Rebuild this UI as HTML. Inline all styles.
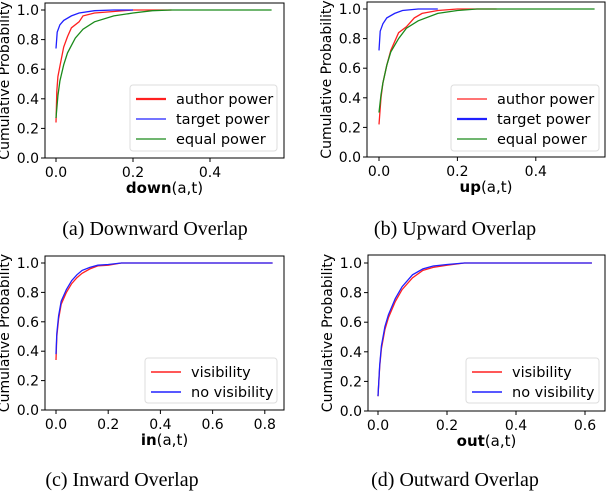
<!DOCTYPE html>
<html><head><meta charset="utf-8">
<style>
body{margin:0;background:#fff;width:606px;height:494px;overflow:hidden}
svg text{font-family:"DejaVu Sans","Liberation Sans",sans-serif}
.cap{font-family:"Liberation Serif",serif;font-size:20px}
</style></head>
<body>
<svg id="root" width="606" height="494" xmlns="http://www.w3.org/2000/svg">
<text class="cap" x="155" y="235" text-anchor="middle">(a) Downward Overlap</text>
<text class="cap" x="455" y="235" text-anchor="middle">(b) Upward Overlap</text>
<text class="cap" x="122" y="486" text-anchor="middle">(c) Inward Overlap</text>
<text class="cap" x="455" y="486" text-anchor="middle">(d) Outward Overlap</text>
</svg>
<script>
// Panel (a) downward overlap
const aAuthorX=[0,0.002,0.005,0.01,0.02,0.03,0.04,0.06,0.07,0.1,0.15,0.2,0.3];
const aAuthorY=[0.24,0.45,0.55,0.62,0.75,0.82,0.88,0.92,0.96,0.98,0.99,1,1];
const aTargetX=[0,0.003,0.01,0.02,0.04,0.06,0.1,0.15,0.2];
const aTargetY=[0.74,0.85,0.9,0.93,0.96,0.98,0.995,1,1];
const aEqualX=[0,0.005,0.01,0.02,0.03,0.05,0.07,0.1,0.15,0.2,0.25,0.3,0.56];
const aEqualY=[0.27,0.42,0.52,0.63,0.71,0.81,0.87,0.92,0.96,0.98,0.995,1,1];
// Panel (b) upward overlap
const bAuthorX=[0,0.005,0.01,0.02,0.03,0.05,0.07,0.09,0.11,0.15,0.2,0.3];
const bAuthorY=[0.22,0.4,0.5,0.62,0.72,0.84,0.88,0.94,0.97,0.99,1,1];
const bTargetX=[0,0.003,0.01,0.02,0.04,0.06,0.1,0.15];
const bTargetY=[0.72,0.85,0.9,0.94,0.97,0.99,1,1];
const bEqualX=[0,0.005,0.01,0.02,0.03,0.05,0.07,0.1,0.15,0.2,0.25,0.55];
const bEqualY=[0.3,0.42,0.5,0.62,0.71,0.8,0.87,0.92,0.97,0.99,1,1];
// Panel (c) inward overlap
const cVisX=[0,0.003,0.01,0.02,0.04,0.06,0.08,0.1,0.13,0.16,0.2,0.25,0.83];
const cVisY=[0.34,0.5,0.62,0.72,0.8,0.86,0.9,0.93,0.96,0.98,0.985,1,1];
const cNoVisX=[0,0.003,0.01,0.02,0.04,0.06,0.08,0.1,0.13,0.16,0.2,0.25,0.83];
const cNoVisY=[0.38,0.52,0.64,0.74,0.82,0.88,0.92,0.95,0.97,0.985,0.99,1,1];
// Panel (d) outward overlap
const dVisX=[0,0.005,0.01,0.02,0.03,0.05,0.07,0.1,0.13,0.16,0.2,0.25,0.62];
const dVisY=[0.1,0.3,0.42,0.55,0.63,0.74,0.82,0.9,0.95,0.97,0.985,1,1];
const dNoVisX=[0,0.005,0.01,0.02,0.03,0.05,0.07,0.1,0.13,0.16,0.2,0.25,0.62];
const dNoVisY=[0.1,0.31,0.44,0.57,0.65,0.76,0.84,0.92,0.96,0.98,0.99,1,1];
const yTicks=[0,0.2,0.4,0.6,0.8,1.0];
const xTicksA=[0,0.2,0.4];
const xTicksC=[0,0.2,0.4,0.6,0.8];
const xTicksD=[0,0.2,0.4,0.6];
const powerLabels=["author power","target power","equal power"];
const visLabels=["visibility","no visibility"];

const NS="http://www.w3.org/2000/svg";
const root=document.getElementById('root');
function mk(tag,attrs,parent){const e=document.createElementNS(NS,tag);for(const k in attrs)e.setAttribute(k,attrs[k]);(parent||root).appendChild(e);return e;}

function panel(p){
  const g=mk('g',{});
  
  
  const sx=v=>p.x0+v*p.kx, sy=v=>p.y0-v*p.ky;
  p.series.forEach(s=>{
    let d='';
    for(let i=0;i<s.x.length;i++){d+=(i?'L':'M')+sx(s.x[i]).toFixed(1)+','+sy(s.y[i]).toFixed(1);}
    const path=mk('path',{d:d,fill:'none',stroke:s.c,'stroke-width':1.3},g);
    
    
  });
  const fr=mk('rect',{x:p.l,y:p.t,width:p.r-p.l,height:p.b-p.t,fill:'none',stroke:'#000','stroke-width':1},g);
  
  
  yTicks.forEach(v=>{
    mk('line',{x1:p.l-4,x2:p.l,y1:sy(v),y2:sy(v),stroke:'#000'},g);
    const t=mk('text',{x:p.l-6,y:sy(v)+5,'text-anchor':'end','font-size':14},g);
    t.textContent=v.toFixed(1);
    
    
  });
  p.xt.forEach(v=>{
    mk('line',{x1:sx(v),x2:sx(v),y1:p.b,y2:p.b+4,stroke:'#000'},g);
    const t=mk('text',{x:sx(v),y:p.b+19,'text-anchor':'middle','font-size':14},g);
    t.textContent=v.toFixed(1);
    
    
  });
  const yl=mk('text',{x:0,y:0,transform:`translate(${p.l-36},${(p.t+p.b)/2}) rotate(-90)`,'text-anchor':'middle','font-size':14},g);
  yl.textContent='Cumulative Probability';
  
  
  const xl=mk('text',{x:(p.l+p.r)/2,y:p.b+35,'text-anchor':'middle','font-size':15},g);
  const bt=mk('tspan',{'font-weight':'bold'},xl);bt.textContent=p.xb;
  const nt=mk('tspan',{},xl);nt.textContent='(a,t)';
  
  
  const lg=mk('g',{},g);
  
  
  const L=p.leg;
  mk('rect',{x:L.x,y:L.y,width:L.w,height:L.h,fill:'#fff','fill-opacity':0.8,stroke:'#ddd',rx:3},lg);
  p.series.forEach((s,i)=>{
    const yy=L.y+14+i*20;
    mk('line',{x1:L.x+6,x2:L.x+36,y1:yy,y2:yy,stroke:s.c,'stroke-width':s.lw||1.3},lg);
    const t=mk('text',{x:L.x+46,y:yy+5,'font-size':14.5},lg);
    t.textContent=p.labels[i];
    
    
  });
}

panel({name:'chart-downward',l:45,r:284,t:3,b:158,x0:56,kx:385,y0:158,ky:148,xt:xTicksA,xb:'down',labels:powerLabels,
  leg:{x:130,y:85,w:147,h:66},
  series:[{x:aAuthorX,y:aAuthorY,c:'#ff2020',n:'line-author-power',lw:2.2},{x:aTargetX,y:aTargetY,c:'#2020ff',n:'line-target-power'},{x:aEqualX,y:aEqualY,c:'#1a8a1a',n:'line-equal-power'}]});
panel({name:'chart-upward',l:367,r:605,t:2,b:157,x0:379,kx:392,y0:157,ky:148,xt:xTicksA,xb:'up',labels:powerLabels,
  leg:{x:451,y:85,w:148,h:66},
  series:[{x:bAuthorX,y:bAuthorY,c:'#ff2020',n:'line-author-power'},{x:bTargetX,y:bTargetY,c:'#2020ff',n:'line-target-power',lw:2.2},{x:bEqualX,y:bEqualY,c:'#1a8a1a',n:'line-equal-power'}]});
panel({name:'chart-inward',l:45,r:284,t:256,b:410,x0:56,kx:261,y0:410,ky:147,xt:xTicksC,xb:'in',labels:visLabels,
  leg:{x:145,y:358,w:132,h:45},
  series:[{x:cVisX,y:cVisY,c:'#ff2020',n:'line-visibility',lw:1.6},{x:cNoVisX,y:cNoVisY,c:'#2020ff',n:'line-no-visibility',lw:1.6}]});
panel({name:'chart-outward',l:368,r:605,t:255,b:411,x0:378,kx:345,y0:411,ky:148,xt:xTicksD,xb:'out',labels:visLabels,
  leg:{x:466,y:358,w:133,h:45},
  series:[{x:dVisX,y:dVisY,c:'#ff2020',n:'line-visibility',lw:1.6},{x:dNoVisX,y:dNoVisY,c:'#2020ff',n:'line-no-visibility',lw:1.6}]});
</script>
</body></html>
